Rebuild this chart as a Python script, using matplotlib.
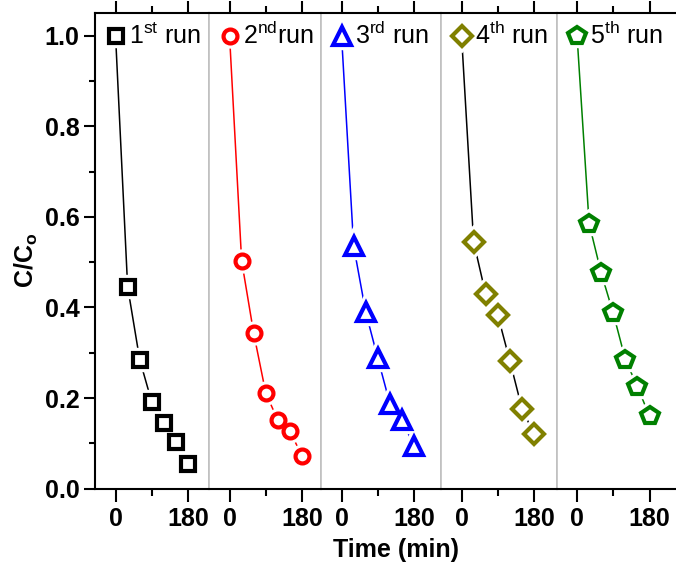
import matplotlib
matplotlib.use('Agg')
import matplotlib.pyplot as plt
import numpy as np

plt.rcParams['font.family'] = ['Liberation Sans', 'DejaVu Sans']
plt.rcParams['mathtext.fontset'] = 'custom'
plt.rcParams['mathtext.rm'] = 'Liberation Sans'
plt.rcParams['mathtext.bf'] = 'Liberation Sans:bold'

# ---------------- data ----------------
time = [0, 30, 60, 90, 120, 150, 180]  # min
run1 = [1.0, 0.446, 0.285, 0.191, 0.146, 0.102, 0.054]
run2 = [1.0, 0.503, 0.343, 0.211, 0.151, 0.127, 0.072]
run3 = [1.0, 0.536, 0.390, 0.288, 0.188, 0.151, 0.095]
run4 = [1.0, 0.545, 0.429, 0.383, 0.282, 0.177, 0.120]
run5 = [1.0, 0.585, 0.476, 0.387, 0.285, 0.225, 0.160]
runs = [run1, run2, run3, run4, run5]
labels = ['1$^{\\mathrm{st}}$ run', '2$^{\\mathrm{nd}}$run', '3$^{\\mathrm{rd}}$ run',
          '4$^{\\mathrm{th}}$ run', '5$^{\\mathrm{th}}$ run']

# ---------------- style ----------------
mk_colors = ['black', '#ff0000', '#0000ff', '#808000', '#008000']
ln_colors = ['black', '#ff0000', '#0000ff', 'black', '#008000']
markers = ['s', 'o', '^', 'D', 'p']
msizes = [9.5, 10, 13, 10, 13]
tick_size = 18

W, H = 676, 567
fig = plt.figure(figsize=(W / 100, H / 100), dpi=100)

edges = [95, 209, 321, 441, 556.5, 676]
y0, y1 = 488.7, 13
px_per_180 = 72.5
grey = '#c0c0c0'

for i in range(5):
    l, r = edges[i], edges[i + 1]
    ax = fig.add_axes([l / W, 1 - y0 / H, (r - l) / W, (y0 - y1) / H])
    x = np.array(time)
    y = np.array(runs[i])
    ax.plot(x, y, '-', color=ln_colors[i], lw=1.1, zorder=1)
    # white halo so the line stops short of the markers
    ax.plot(x, y, ls='none', marker=markers[i], ms=msizes[i], mfc='white',
            mec='white', mew=7.5, zorder=2, clip_on=False)
    ax.plot(x, y, ls='none', marker=markers[i], ms=msizes[i], mfc='white',
            mec=mk_colors[i], mew=3, zorder=3, clip_on=False)
    ax.text(33, 1.0, labels[i], fontsize=18, va='center', ha='left', zorder=4)

    ax.set_xlim(-51, -51 + (r - l) * 180 / px_per_180)
    ax.set_ylim(0, 1.05)
    ax.set_xticks([0, 180])
    ax.set_xticks([90], minor=True)
    ax.tick_params(axis='x', which='major', direction='out', length=9, width=1.5,
                   labelsize=tick_size, pad=4, top=True)
    ax.tick_params(axis='x', which='minor', direction='out', length=5, width=1.5, top=True)
    for lab in ax.get_xticklabels():
        lab.set_fontweight('bold')

    for s in ['top', 'bottom']:
        ax.spines[s].set_linewidth(1.5)
    ax.spines['left'].set_color(grey)
    ax.spines['right'].set_color(grey)
    ax.spines['left'].set_linewidth(1.2)
    ax.spines['right'].set_linewidth(1.2)

    if i == 0:
        ax.spines['left'].set_color('black')
        ax.spines['left'].set_linewidth(1.5)
        ax.set_yticks(np.arange(0, 1.01, 0.2))
        ax.set_yticks(np.arange(0.1, 1.0, 0.2), minor=True)
        ax.set_yticklabels(['%.1f' % v for v in np.arange(0, 1.01, 0.2)],
                           fontweight='bold')
        ax.tick_params(axis='y', which='major', direction='out', length=8, width=1.5,
                       labelsize=tick_size, pad=3)
        ax.tick_params(axis='y', which='minor', direction='out', length=4, width=1.5)
    else:
        ax.set_yticks([])
    if i == 4:
        ax.spines['right'].set_visible(False)

fig.text(26 / W, 1 - 260 / H, 'C/C$_{\\mathbf{o}}$', rotation=90, fontsize=18,
         fontweight='bold', ha='center', va='center')
fig.text(396 / W, 1 - 550 / H, 'Time (min)', fontsize=18, fontweight='bold',
         ha='center', va='center')

fig.savefig('out.png', dpi=100)
